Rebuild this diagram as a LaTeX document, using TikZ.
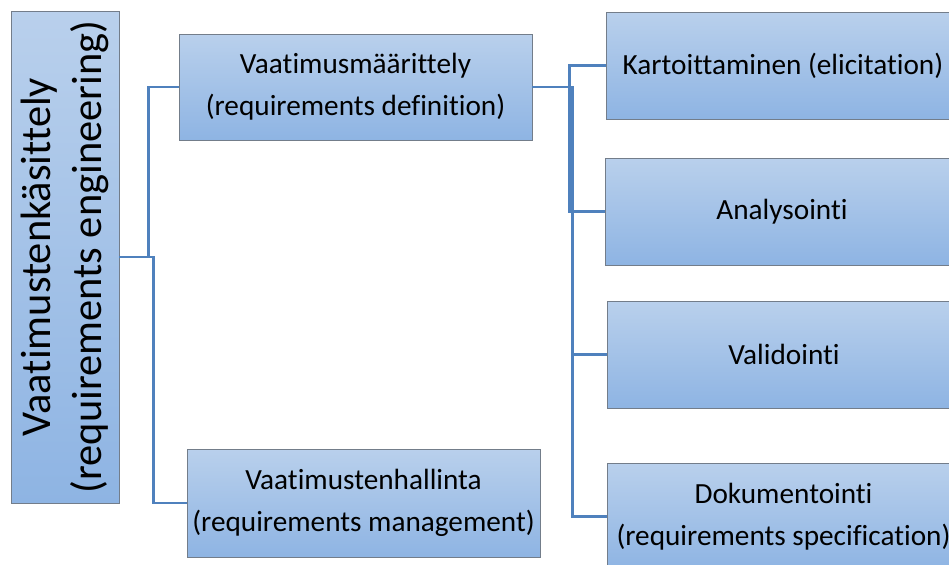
\documentclass[tikz,border=0pt]{standalone}
\usepackage{fontspec}
\setmainfont{Carlito}[Ligatures=NoCommon]

\definecolor{boxtop}{HTML}{B9D0EC}
\definecolor{boxbot}{HTML}{8EB4E3}
\definecolor{boxline}{HTML}{737D8A}
\definecolor{linkblue}{HTML}{4F81BD}

\begin{document}
\begin{tikzpicture}[
    box/.style={draw=boxline, line width=0.7pt, top color=boxtop, bottom color=boxbot,
        minimum width=8.825cm, minimum height=2.675cm, inner sep=0pt, align=center,
        font=\fontsize{20.8}{29.9}\selectfont},
    link/.style={draw=linkblue, line width=2pt}
]
    % Area visibile
    \useasboundingbox (0,0) rectangle (23.725,-14.1);
    \clip (0,0) rectangle (23.725,-14.1);

    % Riquadri
    \node[box, minimum width=2.7cm, minimum height=12.3cm] (root) at (1.625,-6.425) {};
    \node[rotate=90, align=center, font=\fontsize{30.2}{36}\selectfont] (roottext) at (root.center)
        {Vaatimustenkäsittely\\(requirements engineering)};
    \node[box, minimum height=2.65cm] (def) at (8.8875,-2.175) {Vaatimusmäärittely\\(requirements definition)};
    \node[box, minimum height=2.7cm] (mgmt) at (9.0875,-12.575) {Vaatimustenhallinta\\(requirements management)};
    \node[box] (elicit) at (19.575,-1.6375) {Kartoittaminen (elicitation)};
    \node[box] (analys) at (19.55,-5.2875) {Analysointi};
    \node[box] (valid) at (19.6,-8.8625) {Validointi};
    \node[box] (doc) at (19.5875,-12.9125) {Dokumentointi\\(requirements specification)};

    % Collegamenti
    \draw[link] (root.east) -- ++(0.725,0) |- (def.west);
    \draw[link] (root.east) -- ++(0.85,0) |- (mgmt.west);
    \draw[link] (def.east) -- ++(0.925,0) |- (elicit.west);
    \draw[link] (def.east) -- ++(0.925,0) |- (analys.west);
    \draw[link] (def.east) -- ++(1.0,0) |- (valid.west);
    \draw[link] (def.east) -- ++(1.0,0) |- (doc.west);
\end{tikzpicture}
\end{document}
